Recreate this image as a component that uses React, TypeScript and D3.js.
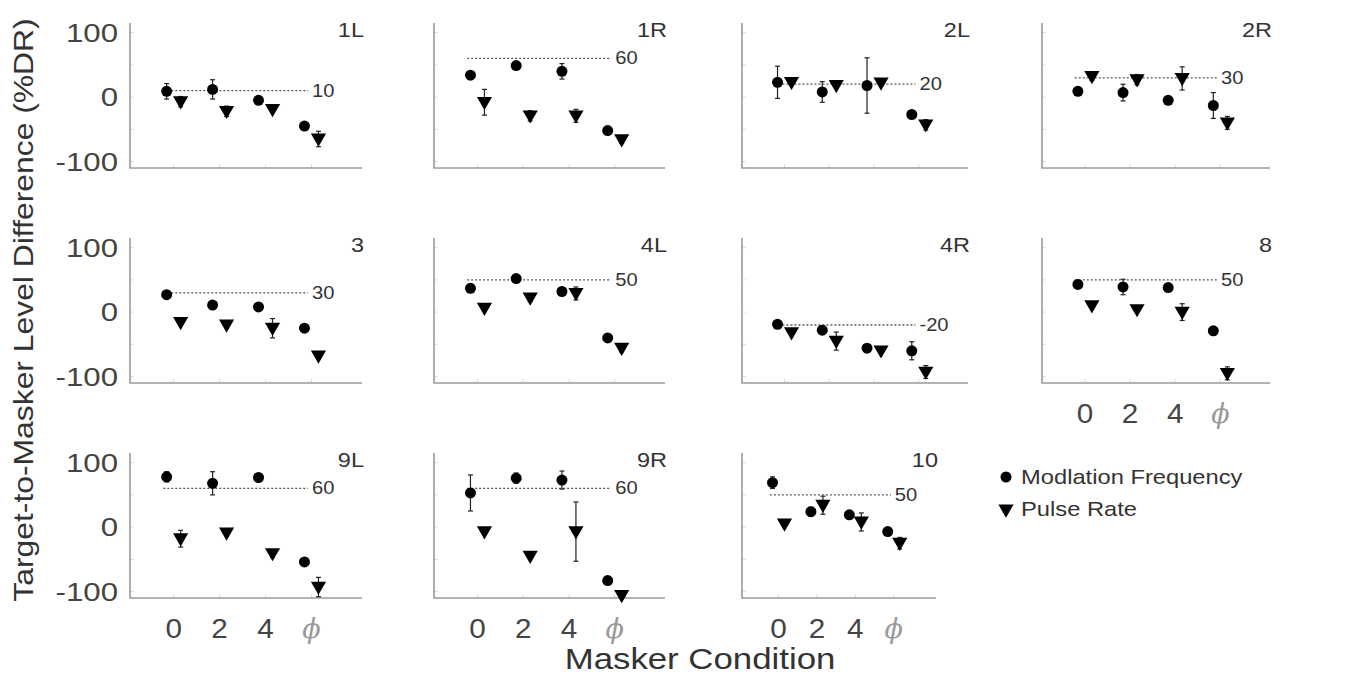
import React from "react";
import * as d3 from "d3";

// panel titles and the dashed reference level in each
const titles = ["1L", "1R", "2L", "2R", "3", "4L", "4R", "8", "9L", "9R", "10"];
const refLevels = [10, 60, 20, 30, 30, 50, -20, 50, 60, 60, 50];
const conditions = ["0", "2", "4", "ϕ"];
const yTicks = [100, 0, -100];

// Modlation Frequency (circles), mean and error per masker condition
const modFreq = [
  [9, 12, -5, -45],
  [34, 49, 40, -52],
  [23, 8, 18, -27],
  [9, 7, -5, -13],
  [27, 11, 8, -25],
  [37, 52, 32, -40],
  [-19, -28, -56, -60],
  [43, 39, 38, -29],
  [78, 68, 77, -54],
  [53, 76, 73, -83],
  [69, 24, 19, -7],
];
const modFreqErr = [
  [12, 15, 3, 3],
  [3, 3, 12, 3],
  [25, 16, 43, 3],
  [3, 13, 5, 20],
  [3, 3, 3, 3],
  [6, 5, 3, 3],
  [5, 6, 3, 14],
  [3, 12, 3, 6],
  [8, 18, 3, 3],
  [28, 8, 14, 3],
  [9, 7, 3, 3],
];

// Pulse Rate (triangles)
const pulseRate = [
  [-7, -22, -19, -65],
  [-8, -29, -29, -66],
  [23, 18, 22, -43],
  [32, 27, 29, -40],
  [-16, -20, -25, -68],
  [6, 22, 29, -56],
  [-32, -45, -60, -93],
  [10, 4, 0, -95],
  [-18, -9, -41, -93],
  [-7, -45, -7, -106],
  [5, 34, 8, -25],
];
const pulseRateErr = [
  [8, 8, 4, 12],
  [20, 8, 10, 6],
  [5, 3, 3, 8],
  [6, 8, 18, 10],
  [3, 3, 15, 3],
  [3, 6, 10, 6],
  [3, 14, 3, 10],
  [3, 3, 13, 10],
  [13, 3, 6, 15],
  [3, 3, 46, 3],
  [3, 14, 14, 9],
];

// layout
const colLeft = [130, 434, 742, 1042];
const colWidth = [232, 231, 226, 228];
const rowTop = [23, 238, 453];
const panelH = 145;
const font = "'Liberation Sans', Arial, sans-serif";

const circlePath = d3.symbol(d3.symbolCircle, 95)();
const triPath = d3.symbol(d3.symbolTriangle, 100)();

// the source figure's lettering is a bit wider than Arial, stretch it
const SText = ({ x, y, sx = 1.18, children, ...rest }: any) => (
  <text transform={`translate(${x},${y}) scale(${sx},1)`} fontFamily={font} {...rest}>
    {children}
  </text>
);

const ErrorBar = ({ x, y0, y1 }: { x: number; y0: number; y1: number }) => (
  <g stroke="#222" strokeWidth={1.2}>
    <line x1={x} x2={x} y1={y0} y2={y1} />
    <line x1={x - 2.5} x2={x + 2.5} y1={y0} y2={y0} />
    <line x1={x - 2.5} x2={x + 2.5} y1={y1} y2={y1} />
  </g>
);

const Panel = ({ i }: { i: number }) => {
  const row = Math.floor(i / 4);
  const col = i % 4;
  const w = i === 10 ? 194 : colWidth[col];
  const left = colLeft[col];
  const top = rowTop[row];

  const x = d3.scaleLinear().domain([-1.9, 8.2]).range([0, w]);
  const y = d3.scaleLinear().domain([-110, 115]).range([panelH, 0]);
  const xs = conditions.map((_, k) => x(k * 2));
  const off = i === 10 ? 6 : 7;

  const showX = i >= 7;
  const showY = col === 0;

  return (
    <g transform={`translate(${left},${top})`}>
      {/* faint ticks */}
      {[-100, -50, 0, 50, 100].map((t) => (
        <line key={t} x1={0} x2={4} y1={y(t)} y2={y(t)} stroke="#ddd" />
      ))}
      {xs.map((cx, k) => (
        <line key={k} x1={cx} x2={cx} y1={panelH} y2={panelH - 4} stroke="#ddd" />
      ))}
      <path
        d={`M0,0V${panelH}H${w}`}
        fill="none"
        stroke="#9a9a9a"
        strokeWidth={1.6}
      />
      {/* reference line */}
      <line
        x1={x(-0.45)}
        x2={x(5.85)}
        y1={y(refLevels[i])}
        y2={y(refLevels[i])}
        stroke="#555"
        strokeWidth={1.3}
        strokeDasharray="2,2"
      />
      <SText
        x={x(5.85) + 4}
        y={y(refLevels[i]) + 6}
        sx={1.12}
        fontSize={18}
        fill="#333"
      >
        {refLevels[i]}
      </SText>
      <SText x={w + 2} y={14} sx={1.12} textAnchor="end" fontSize={21} fill="#333">
        {titles[i]}
      </SText>

      {xs.map((cx, k) => {
        const m = modFreq[i][k];
        const me = modFreqErr[i][k];
        const p = pulseRate[i][k];
        const pe = pulseRateErr[i][k];
        return (
          <g key={k}>
            {me > 4 && <ErrorBar x={cx - off} y0={y(m + me)} y1={y(m - me)} />}
            <path d={circlePath} transform={`translate(${cx - off},${y(m)})`} fill="#000" />
            {pe > 4 && <ErrorBar x={cx + off} y0={y(p + pe)} y1={y(p - pe)} />}
            <path
              d={triPath}
              transform={`translate(${cx + off},${y(p) - 1}) rotate(180)`}
              fill="#000"
            />
          </g>
        );
      })}

      {showY &&
        yTicks.map((t) => (
          <SText
            key={t}
            x={-12}
            y={y(t) + 9}
            sx={1.2}
            textAnchor="end"
            fontSize={26}
            fill="#444"
          >
            {t}
          </SText>
        ))}
      {showX &&
        conditions.map((c, k) =>
          k === 3 ? (
            <text
              key={c}
              x={xs[k]}
              y={panelH + 40}
              textAnchor="middle"
              fontSize={27}
              fill="#999"
              fontStyle="italic"
              fontFamily="'DejaVu Serif', serif"
            >
              {c}
            </text>
          ) : (
            <SText
              key={c}
              x={xs[k]}
              y={panelH + 40}
              sx={1.1}
              textAnchor="middle"
              fontSize={27}
              fill="#444"
            >
              {c}
            </SText>
          )
        )}
    </g>
  );
};

export default function App() {
  return (
    <svg
      width={1349}
      height={675}
      style={{ position: "absolute", left: 0, top: 0, background: "#fff" }}
    >
      <rect width={1349} height={675} fill="#fff" />
      {titles.map((_, i) => (
        <Panel key={i} i={i} />
      ))}
      <text
        transform="translate(33,310) rotate(-90) scale(1.18,1)"
        textAnchor="middle"
        fontSize={27}
        fill="#333"
        fontFamily={font}
      >
        Target-to-Masker Level Difference (%DR)
      </text>
      <SText x={700} y={669} sx={1.2} textAnchor="middle" fontSize={29} fill="#333">
        Masker Condition
      </SText>
      <g fontSize={21} fill="#333">
        <path d={circlePath} transform="translate(1006,477)" fill="#000" />
        <SText x={1021} y={484} sx={1.13}>
          Modlation Frequency
        </SText>
        <path d={triPath} transform="translate(1006,509) rotate(180)" fill="#000" />
        <SText x={1021} y={516} sx={1.13}>
          Pulse Rate
        </SText>
      </g>
    </svg>
  );
}
